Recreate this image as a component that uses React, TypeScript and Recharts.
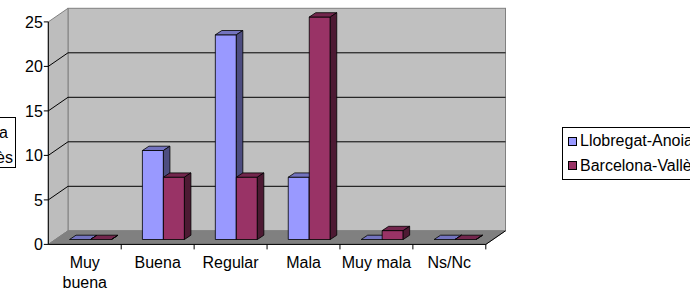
import { BarChart, Bar, XAxis, YAxis, ReferenceArea, ReferenceLine, Legend, Text } from 'recharts';

const categories = ['Muy buena', 'Buena', 'Regular', 'Mala', 'Muy mala', 'Ns/Nc'];
const llobregatAnoia = [0, 10, 23, 7, 0, 0];
const barcelonaValles = [0, 7, 7, 25, 1, 0];
const seriesOrder = ['la', 'bv'];
const yTicks = [0, 5, 10, 15, 20, 25];
const gridValues = [5, 10, 15, 20];

const data = categories.map((cat, i) => ({
  cat,
  la: llobregatAnoia[i],
  bv: barcelonaValles[i],
}));

// layout of the fake 3D box (the recharts plot area is the plane of the bar fronts)
const W = 690;
const H = 291;
const PLOT_LEFT = 54.5;
const PLOT_RIGHT = 492;
const PLOT_TOP = 17;
const PLOT_BOTTOM = 239.5;
const FRONT = { dx: -6.2, dy: 4.9 };
const BACK = { dx: 13.5, dy: -8.7 };
const DEPTH = { dx: 6.5, dy: -4.3 };
const BAND = (PLOT_RIGHT - PLOT_LEFT) / categories.length;
const FONT = '"Liberation Sans", Arial, sans-serif';
const FONT_SIZE = 16;

const make3DBar = (front: string, top: string, side: string) => (props: any) => {
  const { x, y, width, height } = props;
  if (x == null || y == null) return null;
  const { dx, dy } = DEPTH;
  return (
    <g stroke="#000" strokeWidth={0.8} strokeLinejoin="round">
      {height > 0 && <rect x={x} y={y} width={width} height={height} fill={front} />}
      <polygon
        points={`${x},${y} ${x + dx},${y + dy} ${x + width + dx},${y + dy} ${x + width},${y}`}
        fill={top}
      />
      <polygon
        points={`${x + width},${y} ${x + width + dx},${y + dy} ${x + width + dx},${y + height + dy} ${x + width},${y + height}`}
        fill={side}
      />
    </g>
  );
};

const Walls = (props: any) => {
  const { x, y, width, height } = props;
  const b = y + height;
  const fx = x + FRONT.dx;
  const fyT = y + FRONT.dy;
  const fyB = b + FRONT.dy;
  const bx = x + BACK.dx;
  const byT = y + BACK.dy;
  const byB = b + BACK.dy;
  return (
    <g>
      <rect x={bx} y={byT} width={width} height={height} fill="#C0C0C0" stroke="#808080" />
      <polygon
        points={`${fx},${fyT} ${bx},${byT} ${bx},${byB} ${fx},${fyB}`}
        fill="#BDBDBD"
        stroke="#808080"
      />
      <polygon
        points={`${fx},${fyB} ${fx + width},${fyB} ${bx + width},${byB} ${bx},${byB}`}
        fill="#808080"
        stroke="#808080"
      />
      <line x1={fx} y1={fyT} x2={fx} y2={fyB} stroke="#000" />
      <line x1={fx} y1={fyB} x2={fx + width} y2={fyB} stroke="#000" />
      <line x1={fx + width} y1={fyB} x2={bx + width} y2={byB} stroke="#000" />
    </g>
  );
};

const GridLine = (props: any) => {
  const { x1, y1, x2, y2 } = props;
  if (x1 == null) return null;
  return (
    <g stroke="#000" strokeWidth={1}>
      <line x1={x1 + FRONT.dx} y1={y1 + FRONT.dy} x2={x1 + BACK.dx} y2={y1 + BACK.dy} />
      <line x1={x1 + BACK.dx} y1={y1 + BACK.dy} x2={x2 + BACK.dx} y2={y2 + BACK.dy} />
    </g>
  );
};

const YTick = (props: any) => {
  const { y, payload } = props;
  const ax = PLOT_LEFT + FRONT.dx;
  const ty = y + FRONT.dy;
  return (
    <g>
      <line x1={ax - 4.5} y1={ty} x2={ax} y2={ty} stroke="#000" />
      <text x={ax - 5.5} y={ty} dy="0.36em" textAnchor="end" fontSize={FONT_SIZE} fontFamily={FONT} fill="#000">
        {payload.value}
      </text>
    </g>
  );
};

const XTick = (props: any) => {
  const { x, payload } = props;
  const cx = x + FRONT.dx;
  const fy = PLOT_BOTTOM + FRONT.dy;
  return (
    <g>
      <line x1={cx + BAND / 2} y1={fy} x2={cx + BAND / 2} y2={fy + 5} stroke="#000" />
      <Text
        x={cx}
        y={fy + 12.5}
        width={BAND + 1}
        textAnchor="middle"
        verticalAnchor="start"
        lineHeight={19.5}
        fontSize={FONT_SIZE}
        fontFamily={FONT}
        style={{ fontSize: FONT_SIZE, fontFamily: FONT }}
        fill="#000"
      >
        {payload.value}
      </Text>
    </g>
  );
};

const LegendBox = (props: any) => {
  const items = [...(props.payload || [])].sort(
    (a: any, b: any) => seriesOrder.indexOf(a.dataKey) - seriesOrder.indexOf(b.dataKey)
  );
  return (
    <div
      style={{
        border: '1px solid #000',
        background: '#fff',
        padding: '1px 0 1px 5px',
        fontFamily: FONT,
        fontSize: FONT_SIZE,
        width: 200,
        color: '#000',
      }}
    >
      {items.map((p: any) => (
        <div key={p.value} style={{ display: 'flex', alignItems: 'center', height: 24.5, whiteSpace: 'nowrap' }}>
          <span
            style={{
              display: 'inline-block',
              width: 7,
              height: 7,
              border: '1px solid #000',
              background: p.color,
              marginRight: 3,
            }}
          />
          {p.value}
        </div>
      ))}
    </div>
  );
};

export default function App() {
  return (
    <div style={{ position: 'absolute', left: 0, top: 0, width: W, height: H, overflow: 'hidden', background: '#fff' }}>
      {/* legend of a neighbouring chart, cut off by the left edge */}
      <div
        style={{
          position: 'absolute',
          left: -120,
          top: 117,
          width: 136,
          height: 51,
          boxSizing: 'border-box',
          border: '1px solid #000',
          fontFamily: FONT,
          fontSize: FONT_SIZE,
          color: '#000',
          paddingTop: 2,
        }}
      >
        <div style={{ height: 25, lineHeight: '25px', textAlign: 'right', paddingRight: 7, whiteSpace: 'nowrap' }}>
          Llobregat-Anoia
        </div>
        <div style={{ height: 25, lineHeight: '25px', textAlign: 'right', paddingRight: 2, whiteSpace: 'nowrap' }}>
          Barcelona-Vallès
        </div>
      </div>
      <BarChart
        width={W}
        height={H}
        data={data}
        margin={{ top: PLOT_TOP, right: W - PLOT_RIGHT, bottom: 0, left: 0 }}
        barGap={0}
        barSize={21}
      >
        <XAxis
          dataKey="cat"
          height={H - PLOT_BOTTOM}
          axisLine={false}
          tickLine={false}
          interval={0}
          tick={<XTick />}
        />
        <YAxis
          width={PLOT_LEFT}
          domain={[0, 25]}
          ticks={yTicks}
          interval={0}
          axisLine={false}
          tickLine={false}
          tick={<YTick />}
        />
        <ReferenceArea y1={0} y2={25} ifOverflow="visible" shape={Walls} zIndex={-90} />
        {gridValues.map((v) => (
          <ReferenceLine key={v} y={v} ifOverflow="visible" shape={GridLine} zIndex={-80} />
        ))}
        <Legend
          layout="horizontal"
          verticalAlign="middle"
          align="center"
          content={<LegendBox />}
          wrapperStyle={{ left: 562, top: 127, width: 200, height: 'auto' }}
        />
        <Bar
          dataKey="la"
          name="Llobregat-Anoia"
          fill="#9999FF"
          isAnimationActive={false}
          shape={make3DBar('#9999FF', '#7373BF', '#4D4D80')}
        />
        <Bar
          dataKey="bv"
          name="Barcelona-Vallès"
          fill="#993366"
          isAnimationActive={false}
          shape={make3DBar('#993366', '#73264D', '#4D1A33')}
        />
      </BarChart>
    </div>
  );
}
